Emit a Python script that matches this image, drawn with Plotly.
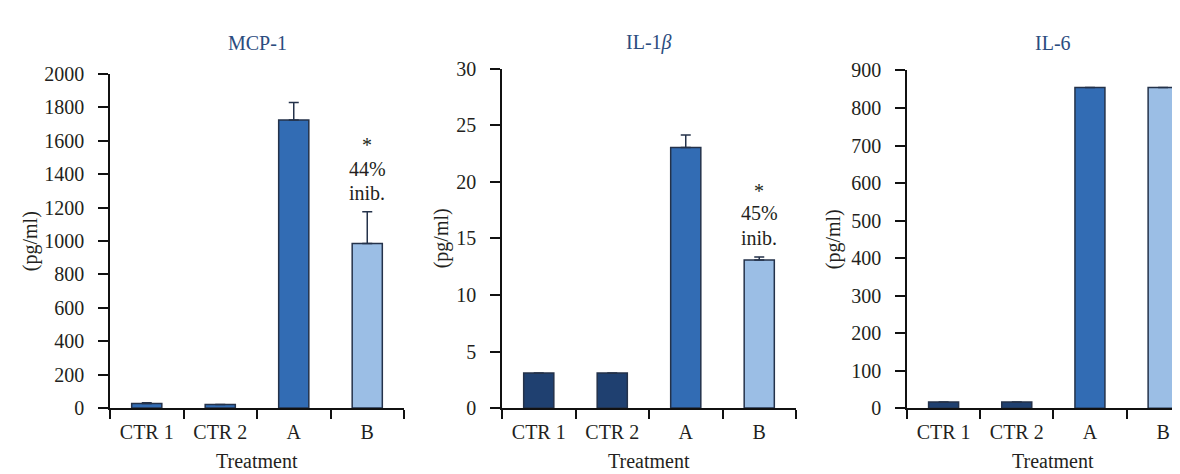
import plotly.graph_objects as go

categories = ["CTR 1", "CTR 2", "A", "B"]

mcp1_values = [28, 22, 1725, 985]
mcp1_err = [4, 0, 105, 190]

il1b_values = [3.1, 3.1, 23.05, 13.1]
il1b_err = [0, 0, 1.1, 0.25]

il6_values = [17, 17, 855, 855]
il6_err = [0, 0, 0, 0]

titles = ["MCP-1", "IL-1<i>β</i>", "IL-6"]
annot1 = [("*", 1577), ("44%", 1434), ("inib.", 1286)]
annot2 = [("*", 19.2), ("45%", 17.25), ("inib.", 15.0)]

MED = "#326cb4"
NAVY = "#1f4070"
LIGHT = "#9bbee5"
EDGE = "#24324a"

colors1 = [MED, MED, MED, LIGHT]
colors2 = [NAVY, NAVY, MED, LIGHT]
colors3 = [NAVY, NAVY, MED, LIGHT]

FONT = "Liberation Serif"
FS = 20
TXT = "#231f20"
TITLE_C = "#2b4c7e"

fig = go.Figure()

def add_bar(vals, errs, cols, xa, ya):
    fig.add_trace(go.Bar(
        x=categories, y=vals, width=0.41,
        marker=dict(color=cols, line=dict(color=EDGE, width=1.5)),
        error_y=dict(type="data", array=errs, arrayminus=[0]*len(errs),
                     symmetric=False, color=EDGE, thickness=1.5, width=5,
                     visible=True),
        xaxis=xa, yaxis=ya, showlegend=False,
    ))

add_bar(mcp1_values, mcp1_err, colors1, "x", "y")
add_bar(il1b_values, il1b_err, colors2, "x2", "y2")
add_bar(il6_values, il6_err, colors3, "x3", "y3")

W, H = 1180, 474
def px(x):
    return x / W
def py(y):
    return 1 - y / H

xdoms = [[px(102), px(396)], [px(494), px(788)], [px(899), 1.0]]
xranges = [[-0.5, 3.5], [-0.5, 3.5], [-0.5, 3.34]]
ydoms = [[py(408), py(57.7)], [py(408), py(52.3)], [py(408.3), py(54)]]
yranges = [[0, 2000], [0, 30], [0, 900]]
ydticks = [200, 5, 100]

layout = dict(
    width=W, height=H,
    margin=dict(l=0, r=0, t=0, b=0),
    paper_bgcolor="white", plot_bgcolor="white",
    font=dict(family=FONT, size=FS, color=TXT),
)

axis_font = dict(family=FONT, size=FS, color=TXT)
for i in range(3):
    sx = "" if i == 0 else str(i + 1)
    layout["xaxis" + sx] = dict(
        domain=xdoms[i], range=xranges[i], anchor="y" + sx,
        type="category", categoryorder="array", categoryarray=categories,
        showline=True, linecolor="#111", linewidth=1.5,
        ticks="outside", ticklen=9, tickwidth=1.5, tickcolor="#111",
        tickson="boundaries", showgrid=False, zeroline=False,
        tickfont=axis_font, ticklabelstandoff=5,
        fixedrange=True,
    )
    layout["yaxis" + sx] = dict(
        domain=ydoms[i], range=yranges[i], anchor="x" + sx,
        dtick=ydticks[i], tick0=0,
        showline=True, linecolor="#111", linewidth=1.5,
        ticks="outside", ticklen=10, tickwidth=1.5, tickcolor="#111",
        showgrid=False, zeroline=False,
        tickfont=axis_font, ticklabelstandoff=10,
        fixedrange=True,
    )

annotations = []
title_x = [249, 641, 1045]
ylab_x = [22, 433, 825]
ylab_y = [233, 230, 231]
for i, t in enumerate(titles):
    annotations.append(dict(
        text=t, x=px(title_x[i]), y=py(25), xref="paper", yref="paper",
        showarrow=False, xanchor="center", yanchor="middle",
        font=dict(family=FONT, size=FS, color=TITLE_C),
    ))
    annotations.append(dict(
        text="Treatment", x=px(title_x[i]), y=py(463), xref="paper", yref="paper",
        showarrow=False, xanchor="center", yanchor="middle",
        font=axis_font,
    ))
    annotations.append(dict(
        text="(pg/ml)", x=px(ylab_x[i]), y=py(ylab_y[i]), xref="paper", yref="paper",
        showarrow=False, xanchor="center", yanchor="middle", textangle=-90,
        font=axis_font,
    ))
for txt, yv in annot1:
    annotations.append(dict(text=txt, x="B", y=yv, xref="x", yref="y",
                            showarrow=False, xanchor="center", yanchor="middle",
                            font=axis_font))
for txt, yv in annot2:
    annotations.append(dict(text=txt, x="B", y=yv, xref="x2", yref="y2",
                            showarrow=False, xanchor="center", yanchor="middle",
                            font=axis_font))
layout["annotations"] = annotations

fig.update_layout(**layout)
fig.write_html("out.html")
